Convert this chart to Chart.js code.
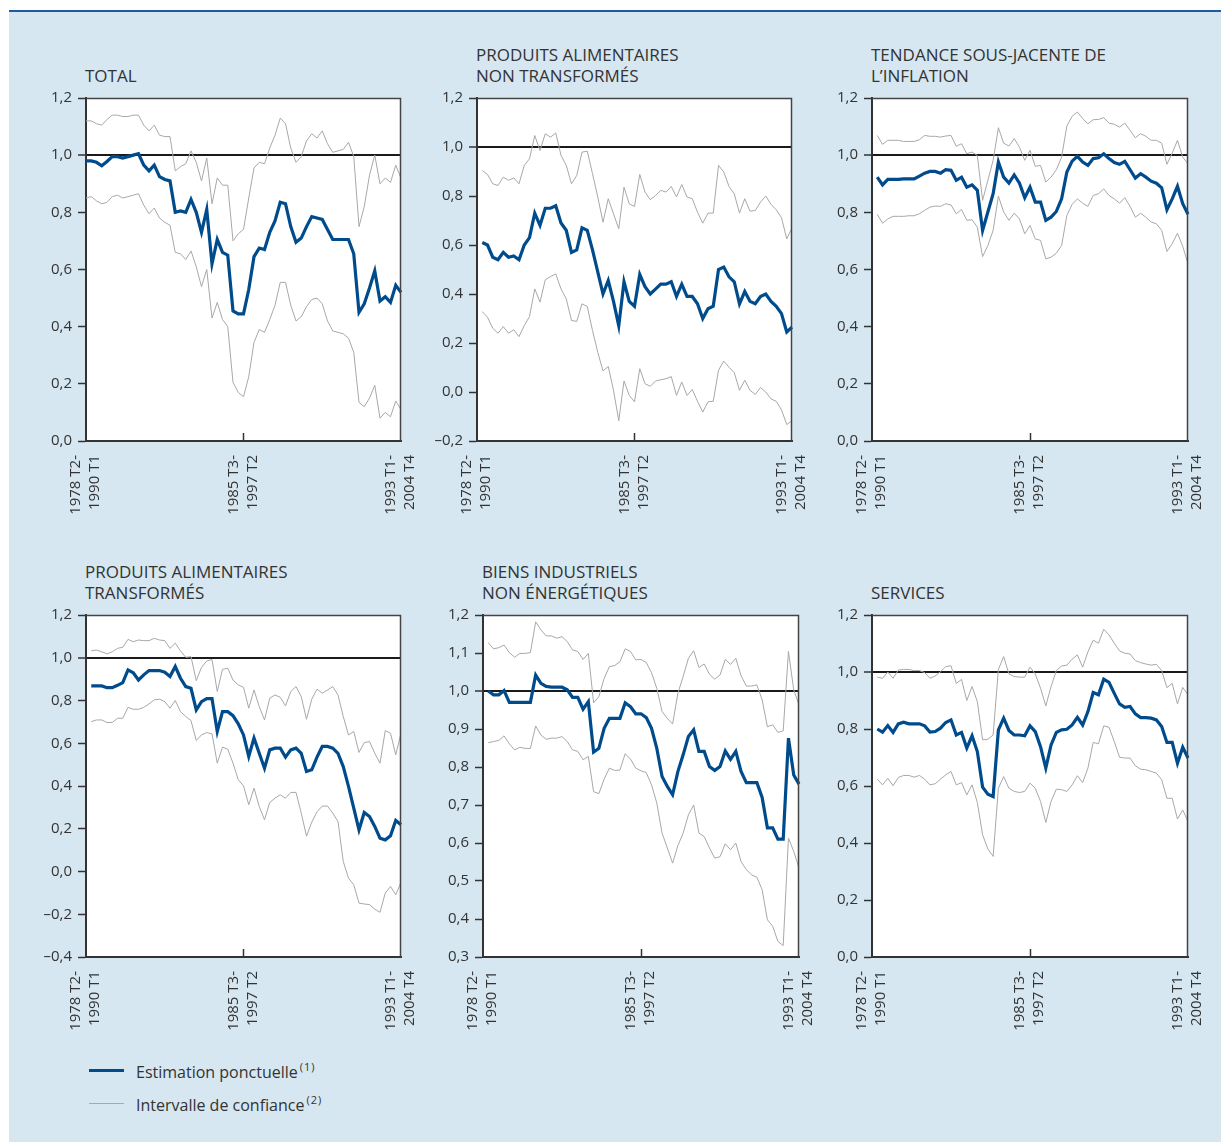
<!DOCTYPE html>
<html>
<head>
<meta charset="utf-8">
<script src="https://cdn.jsdelivr.net/npm/chart.js@4.4.1/dist/chart.umd.min.js"></script>
<style>
html,body{margin:0;padding:0;background:#fff;}
body{width:1221px;height:1142px;position:relative;overflow:hidden;font-family:"Open Sans",sans-serif;}
#panel{position:absolute;left:9px;top:12px;width:1212px;height:1130px;background:#d6e7f1;}
#rule{position:absolute;left:9px;top:10px;width:1212px;height:2px;background:#1f5c9e;}
.title{position:absolute;font-size:17px;line-height:21px;color:#333;white-space:nowrap;}
canvas{position:absolute;}
.lg-line{position:absolute;left:89px;width:35px;}
.lg-text{position:absolute;left:136px;font-size:16px;line-height:20px;color:#333;white-space:nowrap;}
.lg-text sup{font-size:11px;letter-spacing:1px;vertical-align:0;position:relative;top:-7px;margin-left:2px;}
</style>
</head>
<body>
<div id="panel"></div>
<div id="rule"></div>
<div id="charts"></div>
<div class="lg-line" style="top:1069px;height:3px;background:#004b8c;"></div>
<div class="lg-text" style="top:1062px;">Estimation ponctuelle<sup>(1)</sup></div>
<div class="lg-line" style="top:1103px;height:1px;background:#a8a8a8;"></div>
<div class="lg-text" style="top:1095px;">Intervalle de confiance<sup>(2)</sup></div>
<script>
// ---------- categories & tick labels ----------
const windows = [];
for (let i = 0; i < 61; i++) {
  const s = 1978 * 4 + i, e = s + 47;
  windows.push(Math.floor(s / 4) + ' T' + (s % 4 + 1) + '-' + Math.floor(e / 4) + ' T' + (e % 4 + 1));
}
const tickIndices = [0, 30, 60];
const tickLabels = [['1978 T2-', '1990 T1'], ['1985 T3-', '1997 T2'], ['1993 T1-', '2004 T4']];

const titles = [
  ['TOTAL'],
  ['PRODUITS ALIMENTAIRES', 'NON TRANSFORMÉS'],
  ['TENDANCE SOUS-JACENTE DE', 'L’INFLATION'],
  ['PRODUITS ALIMENTAIRES', 'TRANSFORMÉS'],
  ['BIENS INDUSTRIELS', 'NON ÉNERGÉTIQUES'],
  ['SERVICES']
];
const yMin = [0, -0.2, 0, -0.4, 0.3, 0];
const yMax = [1.2, 1.2, 1.2, 1.2, 1.2, 1.2];
const yStep = [0.2, 0.2, 0.2, 0.2, 0.1, 0.2];
const refLevel = 1.0;

// ---------- series ----------
const totalPoint = [0.98,0.98,0.975,0.963,0.978,0.995,0.995,0.99,0.995,1.0,
1.005,0.965,0.945,0.965,0.925,0.915,0.91,0.80,0.805,0.80,
0.845,0.80,0.73,0.81,0.62,0.705,0.66,0.65,0.455,0.445,
0.445,0.53,0.645,0.675,0.67,0.73,0.77,0.835,0.83,0.75,
0.695,0.71,0.75,0.785,0.78,0.775,0.74,0.705,0.705,0.705,
0.705,0.655,0.45,0.48,0.535,0.595,0.49,0.505,0.485,0.545,0.52];
const totalUpper = [1.12,1.12,1.11,1.105,1.125,1.14,1.14,1.135,1.135,1.14,
1.14,1.105,1.085,1.105,1.07,1.065,1.065,0.945,0.96,0.97,
1.015,0.975,0.91,0.99,0.83,0.92,0.895,0.895,0.70,0.725,
0.74,0.85,0.955,0.975,0.97,1.025,1.07,1.13,1.11,1.025,
0.975,0.995,1.05,1.075,1.06,1.085,1.04,1.01,1.015,1.02,
1.045,0.995,0.75,0.82,0.93,1.0,0.9,0.92,0.905,0.965,0.92];
const totalLower = [0.85,0.855,0.84,0.83,0.835,0.855,0.86,0.85,0.855,0.86,
0.865,0.825,0.795,0.815,0.78,0.765,0.755,0.66,0.655,0.635,
0.665,0.61,0.54,0.6,0.43,0.485,0.425,0.4,0.205,0.17,
0.155,0.225,0.345,0.39,0.38,0.425,0.475,0.555,0.555,0.475,
0.42,0.435,0.47,0.495,0.5,0.48,0.42,0.385,0.38,0.375,
0.36,0.31,0.135,0.12,0.15,0.195,0.08,0.1,0.085,0.14,0.11];

const nonTransfPoint = [0.61,0.60,0.55,0.54,0.57,0.55,0.555,0.54,0.60,0.63,
0.73,0.68,0.75,0.75,0.76,0.69,0.66,0.57,0.58,0.67,
0.66,0.58,0.49,0.40,0.455,0.37,0.27,0.45,0.37,0.35,
0.48,0.43,0.40,0.42,0.44,0.44,0.45,0.39,0.44,0.39,
0.39,0.36,0.30,0.34,0.35,0.50,0.51,0.47,0.45,0.36,
0.41,0.37,0.36,0.39,0.40,0.37,0.35,0.32,0.245,0.265];
const nonTransfUpper = [0.904,0.888,0.85,0.843,0.877,0.864,0.874,0.85,0.925,0.952,
1.047,0.986,1.054,1.04,1.057,0.966,0.925,0.85,0.884,0.979,
0.983,0.891,0.796,0.693,0.789,0.727,0.666,0.836,0.768,0.757,
0.888,0.816,0.785,0.802,0.823,0.816,0.839,0.796,0.847,0.796,
0.789,0.734,0.689,0.73,0.73,0.925,0.898,0.839,0.809,0.73,
0.789,0.738,0.741,0.775,0.8,0.766,0.744,0.711,0.625,0.67];
const nonTransfLower = [0.328,0.305,0.26,0.24,0.267,0.24,0.254,0.226,0.271,0.308,
0.421,0.367,0.458,0.471,0.482,0.421,0.38,0.292,0.288,0.36,
0.349,0.251,0.162,0.086,0.104,0.007,-0.117,0.045,-0.014,-0.04,
0.095,0.034,0.023,0.045,0.05,0.054,0.063,-0.014,0.041,-0.014,
0.01,-0.038,-0.082,-0.04,-0.038,0.089,0.126,0.101,0.079,0.007,
0.048,0.007,-0.01,0.018,0,-0.028,-0.038,-0.073,-0.133,-0.117];

const trendPoint = [0.923,0.896,0.915,0.915,0.915,0.917,0.917,0.917,0.927,0.937,
0.943,0.943,0.937,0.949,0.947,0.912,0.923,0.888,0.896,0.877,
0.737,0.801,0.865,0.976,0.923,0.902,0.931,0.902,0.851,0.888,
0.836,0.836,0.772,0.783,0.803,0.847,0.941,0.979,0.996,0.976,
0.964,0.988,0.991,1.005,0.988,0.974,0.968,0.978,0.949,0.92,
0.935,0.923,0.909,0.902,0.886,0.809,0.847,0.891,0.83,0.793];
const trendUpper = [1.069,1.038,1.052,1.052,1.052,1.048,1.048,1.048,1.054,1.069,
1.066,1.066,1.063,1.067,1.069,1.031,1.04,1.005,1.011,0.999,
0.842,0.912,0.982,1.096,1.042,1.032,1.058,1.028,0.982,1.017,
0.961,0.964,0.906,0.923,0.949,0.993,1.102,1.136,1.151,1.128,
1.11,1.124,1.125,1.131,1.112,1.108,1.098,1.112,1.087,1.061,
1.075,1.066,1.052,1.052,1.042,0.968,1.007,1.052,0.993,0.97];
const trendLower = [0.793,0.762,0.777,0.786,0.786,0.786,0.788,0.788,0.795,0.807,
0.818,0.822,0.821,0.83,0.826,0.795,0.81,0.772,0.774,0.748,
0.645,0.684,0.737,0.857,0.801,0.772,0.797,0.777,0.725,0.754,
0.707,0.702,0.637,0.643,0.657,0.684,0.789,0.828,0.847,0.832,
0.821,0.859,0.865,0.882,0.859,0.847,0.832,0.851,0.821,0.783,
0.797,0.783,0.766,0.76,0.737,0.663,0.69,0.727,0.681,0.62];

const transfPoint = [0.868,0.868,0.868,0.86,0.86,0.871,0.884,0.943,0.93,0.896,
0.92,0.94,0.94,0.94,0.932,0.912,0.959,0.904,0.865,0.857,
0.756,0.795,0.809,0.809,0.655,0.748,0.748,0.729,0.691,0.639,
0.538,0.624,0.553,0.483,0.569,0.577,0.577,0.535,0.569,0.577,
0.553,0.468,0.476,0.535,0.585,0.585,0.577,0.553,0.491,0.398,
0.296,0.195,0.276,0.257,0.211,0.156,0.148,0.167,0.239,0.219];
const transfUpper = [1.033,1.036,1.028,1.018,1.028,1.044,1.049,1.086,1.075,1.083,
1.08,1.08,1.091,1.083,1.08,1.044,1.068,1.032,1.002,1.005,
0.893,0.955,0.985,0.992,0.842,0.946,0.951,0.896,0.873,0.862,
0.764,0.849,0.772,0.709,0.811,0.826,0.815,0.775,0.842,0.865,
0.818,0.712,0.806,0.853,0.834,0.849,0.865,0.826,0.725,0.639,
0.655,0.557,0.603,0.608,0.553,0.507,0.659,0.647,0.546,0.647];
const transfLower = [0.701,0.709,0.709,0.697,0.697,0.717,0.717,0.768,0.759,0.759,
0.768,0.784,0.803,0.806,0.795,0.764,0.8,0.748,0.725,0.706,
0.613,0.639,0.65,0.644,0.507,0.582,0.572,0.507,0.429,0.401,
0.312,0.39,0.304,0.242,0.323,0.343,0.359,0.343,0.37,0.37,
0.273,0.165,0.231,0.279,0.306,0.306,0.273,0.234,0.047,-0.031,
-0.062,-0.148,-0.152,-0.155,-0.176,-0.191,-0.101,-0.07,-0.109,-0.051];

const industrialPoint = [1.0,0.99,0.99,1.001,0.97,0.97,0.97,0.97,0.97,1.042,
1.02,1.012,1.01,1.01,1.01,1.003,0.983,0.983,0.952,0.972,
0.839,0.849,0.902,0.928,0.928,0.928,0.969,0.959,0.94,0.94,
0.93,0.902,0.849,0.775,0.749,0.727,0.788,0.832,0.88,0.898,
0.841,0.841,0.801,0.791,0.801,0.842,0.82,0.841,0.788,0.759,
0.759,0.759,0.72,0.64,0.64,0.61,0.61,0.876,0.779,0.755];
const industrialUpper = [1.127,1.111,1.114,1.121,1.101,1.089,1.099,1.099,1.101,1.182,
1.161,1.145,1.145,1.139,1.143,1.13,1.108,1.104,1.083,1.099,
0.969,0.985,1.033,1.064,1.067,1.077,1.111,1.104,1.082,1.083,
1.075,1.048,1.007,0.946,0.928,0.913,0.994,1.038,1.086,1.106,
1.062,1.071,1.044,1.031,1.042,1.083,1.07,1.086,1.04,1.013,
1.013,1.016,0.977,0.906,0.911,0.891,0.895,1.104,1.003,0.963];
const industrialLower = [0.864,0.867,0.87,0.882,0.861,0.845,0.852,0.849,0.849,0.908,
0.884,0.873,0.876,0.876,0.88,0.867,0.845,0.841,0.819,0.828,
0.735,0.73,0.768,0.797,0.791,0.792,0.835,0.821,0.797,0.79,
0.785,0.753,0.705,0.626,0.587,0.547,0.593,0.626,0.674,0.7,
0.626,0.617,0.587,0.56,0.564,0.598,0.582,0.6,0.551,0.53,
0.516,0.51,0.477,0.398,0.381,0.341,0.33,0.613,0.578,0.534];

const servicesPoint = [0.8,0.789,0.812,0.788,0.818,0.824,0.818,0.818,0.818,0.811,
0.789,0.791,0.803,0.823,0.832,0.779,0.788,0.733,0.776,0.721,
0.596,0.571,0.563,0.797,0.838,0.795,0.779,0.779,0.776,0.811,
0.791,0.738,0.663,0.744,0.788,0.797,0.799,0.814,0.841,0.814,
0.861,0.928,0.92,0.975,0.964,0.925,0.888,0.876,0.879,0.853,
0.84,0.84,0.838,0.832,0.809,0.753,0.753,0.68,0.736,0.698];
const servicesUpper = [0.982,0.978,1.0,0.978,1.007,1.009,1.009,1.005,1.005,0.998,
0.978,0.986,1.001,1.019,1.022,0.96,0.974,0.9,0.949,0.896,
0.762,0.764,0.779,1.009,1.054,0.993,0.984,0.982,0.982,1.017,
0.993,0.943,0.881,0.949,1.005,1.021,1.024,1.045,1.06,1.017,
1.071,1.112,1.101,1.15,1.13,1.101,1.074,1.066,1.063,1.04,
1.033,1.028,1.024,1.027,1.005,0.945,0.96,0.888,0.946,0.92];
const servicesLower = [0.624,0.604,0.627,0.601,0.63,0.637,0.637,0.631,0.637,0.624,
0.604,0.608,0.624,0.639,0.651,0.604,0.612,0.569,0.604,0.542,
0.429,0.379,0.353,0.592,0.633,0.592,0.581,0.577,0.581,0.61,
0.592,0.546,0.472,0.546,0.589,0.587,0.581,0.604,0.636,0.612,
0.663,0.753,0.748,0.811,0.806,0.756,0.701,0.698,0.698,0.671,
0.659,0.657,0.651,0.645,0.622,0.557,0.557,0.484,0.516,0.476];

const pointSeries = [totalPoint, nonTransfPoint, trendPoint, transfPoint, industrialPoint, servicesPoint];
const upperSeries = [totalUpper, nonTransfUpper, trendUpper, transfUpper, industrialUpper, servicesUpper];
const lowerSeries = [totalLower, nonTransfLower, trendLower, transfLower, industrialLower, servicesLower];

// ---------- layout (page pixels of each plot area) ----------
const plotRects = [[86,98,401,441],[477,98,792,441],[872,98,1188,441],
                   [86,615,401,957],[483,615,799,957],[872,615,1188,957]];
const PAD_TOP = 15, PAD_RIGHT = 25, Y_W = 80, X_H = 85;
const BLUE = '#004b8c', GREY = '#a8a8a8', INK = '#333';

function alignToWindows(arr) {
  return new Array(windows.length - arr.length).fill(null).concat(arr);
}
function fmt(v) {
  const r = Math.round(v * 10) / 10;
  return (r < 0 ? '–' : '') + Math.abs(r).toFixed(1).replace('.', ',');
}
const boxPlugin = {
  id: 'box',
  beforeDraw(chart) {
    const {ctx, chartArea: a} = chart;
    ctx.save(); ctx.fillStyle = '#fff';
    ctx.fillRect(a.left, a.top, a.right - a.left, a.bottom - a.top);
    ctx.restore();
  },
  afterDraw(chart) {
    const {ctx, chartArea: a} = chart;
    ctx.save(); ctx.strokeStyle = '#444'; ctx.lineWidth = 1.5;
    ctx.beginPath();
    ctx.moveTo(a.left, a.top + 0.5); ctx.lineTo(a.right - 0.5, a.top + 0.5); ctx.lineTo(a.right - 0.5, a.bottom);
    ctx.stroke(); ctx.restore();
  }
};

const holder = document.getElementById('charts');
plotRects.forEach((r, i) => {
  const [L, T, R, B] = r;
  // title
  const t = document.createElement('div');
  t.className = 'title';
  t.style.left = (L - 1) + 'px';
  t.style.top = (T - PAD_TOP - 18 - (titles[i].length - 1) * 21) + 'px';
  t.innerHTML = titles[i].join('<br>');
  holder.appendChild(t);
  // canvas
  const c = document.createElement('canvas');
  const w = (R - L) + Y_W + PAD_RIGHT, h = (B - T) + PAD_TOP + X_H;
  c.width = w; c.height = h;
  c.style.width = w + 'px'; c.style.height = h + 'px';
  c.style.left = (L - Y_W) + 'px'; c.style.top = (T - PAD_TOP) + 'px';
  holder.appendChild(c);
  const isRef = ctx => ctx.tick && Math.abs(ctx.tick.value - refLevel) < 1e-6;
  new Chart(c, {
    type: 'line',
    data: {
      labels: windows,
      datasets: [
        {label: 'Estimation ponctuelle', data: alignToWindows(pointSeries[i]), borderColor: BLUE, borderWidth: 3.2, pointRadius: 0, tension: 0},
        {label: 'Intervalle de confiance', data: alignToWindows(upperSeries[i]), borderColor: GREY, borderWidth: 1, pointRadius: 0, tension: 0},
        {label: 'Intervalle de confiance (bas)', data: alignToWindows(lowerSeries[i]), borderColor: GREY, borderWidth: 1, pointRadius: 0, tension: 0}
      ]
    },
    options: {
      responsive: false, animation: false, devicePixelRatio: 1,
      layout: {padding: {top: PAD_TOP, right: PAD_RIGHT, left: 0, bottom: 0}},
      plugins: {legend: {display: false}, tooltip: {enabled: false}, title: {display: false}},
      scales: {
        x: {
          type: 'category', offset: false,
          grid: {display: true, drawOnChartArea: false, drawTicks: true, tickLength: -8, tickWidth: 1.5,
                 tickColor: ctx => ctx.index === tickIndices[1] ? INK : 'rgba(0,0,0,0)'},
          border: {display: true, color: INK, width: 2},
          ticks: {autoSkip: false, maxRotation: 90, minRotation: 90, padding: 22, labelOffset: -10,
                  color: INK, font: {family: 'Open Sans', size: 15, lineHeight: 1.27},
                  callback: (v, idx) => { const k = tickIndices.indexOf(idx); return k >= 0 ? tickLabels[k] : ''; }},
          afterFit: s => { s.height = X_H; s.paddingLeft = 0; s.paddingRight = 0; }
        },
        y: {
          type: 'linear', min: yMin[i], max: yMax[i],
          ticks: {stepSize: yStep[i], padding: 6, color: INK, font: {family: 'Open Sans', size: 15},
                  callback: v => fmt(v)},
          grid: {color: ctx => isRef(ctx) ? '#1a1a1a' : 'rgba(0,0,0,0)', lineWidth: ctx => isRef(ctx) ? 2 : 1,
                 tickColor: INK, tickLength: 8, tickWidth: 1.5},
          border: {display: true, color: INK, width: 2},
          afterFit: s => { s.width = Y_W; s.paddingTop = 0; s.paddingBottom = 0; }
        }
      }
    },
    plugins: [boxPlugin]
  });
});
</script>
</body>
</html>
